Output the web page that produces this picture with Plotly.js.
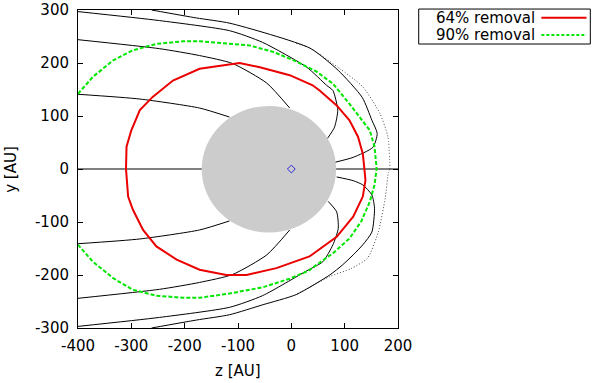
<!DOCTYPE html>
<html>
<head>
<meta charset="utf-8">
<script src="https://cdn.plot.ly/plotly-3.0.1.min.js"></script>
<style>
  html, body { margin: 0; padding: 0; background: #fff; }
  #chart { width: 600px; height: 383px; }
</style>
</head>
<body>
<div id="chart"></div>
<script>
// tick labels (gnuplot style, plain hyphen)
var xTicks = [-400, -300, -200, -100, 0, 100, 200];
var xTickText = ['-400', '-300', '-200', '-100', '0', '100', '200'];
var yTicks = [-300, -200, -100, 0, 100, 200, 300];
var yTickText = ['-300', '-200', '-100', '0', '100', '200', '300'];

// 64% removal contour
var red64Z = [-310, -309, -300, -284, -260, -222, -172, -116, -97, -59, -3, 40, 53, 85, 109, 125, 134, 137,
              139, 134, 116, 85, 34, -28, -84, -122, -172, -215, -253, -278, -297, -306, -309, -310];
var red64Y = [0, 42, 73, 111, 136, 167, 189, 198, 200, 192, 177, 158, 148, 120, 92, 61, 29, 0,
              -21, -52, -90, -128, -165, -187, -200, -200, -190, -171, -146, -115, -77, -52, -21, 0];

// 90% removal contour
var green90Z = [-400, -372, -334, -297, -253, -203, -172, -116, -78, -34, 9, 47, 78, 109, 128, 147, 156, 160,
                159, 156, 147, 131, 109, 78, 47, 34, -3, -53, -116, -172, -203, -253, -297, -334, -372, -400];
var green90Y = [142, 174, 205, 224, 236, 241, 241, 237, 233, 221, 203, 184, 161, 123, 98, 73, 42, 0,
                -7, -30, -62, -99, -131, -159, -181, -191, -207, -223, -235, -243, -243, -239, -228, -206, -175, -143];

// streamlines, upper half
var outerUpZ = [-262, -178, -115, 35, 88, 133, 151, 161, 153, 116, 83];
var outerUpY = [300, 285, 275, 228, 186, 135, 92, 67, 41, 22, 13];
var midUpZ = [-400, -247, -116, -54, 29, 66, 78, 87, 81, 68];
var midUpY = [297, 280, 261, 239, 192, 158, 148, 111, 79, 58];
var innerUpZ = [-400, -247, -172, -110, -46, -3];
var innerUpY = [244, 227, 214, 199, 162, 115];
var lowUpZ = [-400, -284, -172, -116];
var lowUpY = [141, 132, 115, 98];

// streamlines, lower half
var outerDnZ = [-262, -178, -116, -53, 9, 72, 96, 116, 134, 151, 156, 151, 134, 116, 85];
var outerDnY = [-300, -285, -275, -256, -237, -200, -181, -162, -143, -119, -74, -49, -30, -22, -15];
var midDnZ = [-400, -247, -116, -54, 29, 59, 78, 88, 85, 69];
var midDnY = [-297, -280, -261, -239, -192, -175, -143, -112, -81, -61];
var innerDnZ = [-400, -247, -172, -110, -46, -3];
var innerDnY = [-244, -227, -214, -199, -162, -115];
var lowDnZ = [-400, -284, -172, -116];
var lowDnY = [-141, -132, -115, -98];

// axis line y = 0 (split by the disc)
var axisLeftZ = [-400, -168], axisLeftY = [0, 0];
var axisRightZ = [84, 200], axisRightY = [0, 0];

// dotted outer boundary
var dotUpZ = [9, 35, 90, 134, 166, 181, 185];
var dotUpY = [237, 228, 190, 155, 105, 61, 0];
var dotDnZ = [185, 182, 176, 163, 143, 112, 72, 9];
var dotDnY = [0, -7, -55, -119, -168, -188, -203, -237];

// star position
var starZ = [0], starY = [0];

var fontFam = 'DejaVu Sans, Liberation Sans, Arial, sans-serif';
var redCol = 'rgb(235,0,0)';
var greenCol = 'rgb(0,230,0)';

let blackLine = (x, y, dotted) => ({
    x: x, y: y, type: 'scatter', mode: 'lines', showlegend: false, hoverinfo: 'skip',
    line: dotted
        ? { color: 'rgb(70,70,70)', width: 1, shape: 'spline', smoothing: 0.6, dash: '1px,2px' }
        : { color: 'black', width: 1, shape: 'spline', smoothing: 0.6 }
});

var traces = [
    blackLine(axisLeftZ, axisLeftY),
    blackLine(axisRightZ, axisRightY),
    blackLine(dotUpZ, dotUpY, true),
    blackLine(dotDnZ, dotDnY, true),
    blackLine(outerUpZ, outerUpY),
    blackLine(midUpZ, midUpY),
    blackLine(innerUpZ, innerUpY),
    blackLine(lowUpZ, lowUpY),
    blackLine(outerDnZ, outerDnY),
    blackLine(midDnZ, midDnY),
    blackLine(innerDnZ, innerDnY),
    blackLine(lowDnZ, lowDnY),
    {
        x: red64Z, y: red64Y, type: 'scatter', mode: 'lines', name: '64% removal', showlegend: false,
        line: { color: redCol, width: 2 }
    },
    {
        x: green90Z, y: green90Y, type: 'scatter', mode: 'lines', name: '90% removal', showlegend: false,
        line: { color: greenCol, width: 2, dash: '4px,2px' }
    },
    {
        x: starZ, y: starY, type: 'scatter', mode: 'markers', showlegend: false,
        marker: { symbol: 'diamond-open', size: 6, color: 'rgb(40,40,220)', line: { width: 1, color: 'rgb(40,40,220)' } }
    }
];

var layout = {
    width: 600, height: 383,
    margin: { l: 78, r: 202, t: 10, b: 55 },
    paper_bgcolor: 'white', plot_bgcolor: 'white',
    font: { family: fontFam, size: 15, color: 'black' },
    showlegend: false,
    xaxis: {
        range: [-400, 200], tickvals: xTicks, ticktext: xTickText,
        ticks: 'inside', ticklen: 5, tickcolor: 'black', mirror: 'allticks',
        showline: true, linecolor: 'black', linewidth: 1, showgrid: false, zeroline: false,
        ticklabelstandoff: 4,
        tickfont: { family: fontFam, size: 15 }
    },
    yaxis: {
        range: [-300, 300], tickvals: yTicks, ticktext: yTickText,
        ticks: 'inside', ticklen: 5, tickcolor: 'black', mirror: 'allticks',
        showline: true, linecolor: 'black', linewidth: 1, showgrid: false, zeroline: false,
        ticklabelstandoff: 5,
        tickfont: { family: fontFam, size: 15 }
    },
    shapes: [
        // obscuring disc
        { type: 'circle', xref: 'x', yref: 'y', x0: -168, x1: 84, y0: -120, y1: 119,
          fillcolor: 'rgb(204,204,204)', line: { width: 0 }, layer: 'below' },
        // legend box and samples
        { type: 'rect', xref: 'paper', yref: 'paper', x0: 1.0647, x1: 1.601, y0: 0.893, y1: 1.003,
          line: { color: 'black', width: 1 }, fillcolor: 'rgba(0,0,0,0)' },
        { type: 'line', xref: 'paper', yref: 'paper', x0: 1.448, x1: 1.589, y0: 0.976, y1: 0.976,
          line: { color: redCol, width: 2 } },
        { type: 'line', xref: 'paper', yref: 'paper', x0: 1.448, x1: 1.589, y0: 0.921, y1: 0.921,
          line: { color: greenCol, width: 2, dash: '3px,2px' } }
    ],
    annotations: [
        { text: 'z [AU]', xref: 'paper', yref: 'paper', x: 0.5, y: -0.136, xanchor: 'center', yanchor: 'middle',
          showarrow: false, font: { family: fontFam, size: 15 } },
        { text: 'y [AU]', xref: 'paper', yref: 'paper', x: -0.21, y: 0.5, xanchor: 'center', yanchor: 'middle',
          textangle: -90, showarrow: false, font: { family: fontFam, size: 15 } },
        { text: '64% removal', xref: 'paper', yref: 'paper', x: 1.432, y: 0.976, xanchor: 'right', yanchor: 'middle',
          borderpad: 0, showarrow: false, font: { family: fontFam, size: 15 } },
        { text: '90% removal', xref: 'paper', yref: 'paper', x: 1.432, y: 0.921, xanchor: 'right', yanchor: 'middle',
          borderpad: 0, showarrow: false, font: { family: fontFam, size: 15 } }
    ]
};

Plotly.newPlot('chart', traces, layout, { displayModeBar: false, staticPlot: true });
</script>
</body>
</html>
